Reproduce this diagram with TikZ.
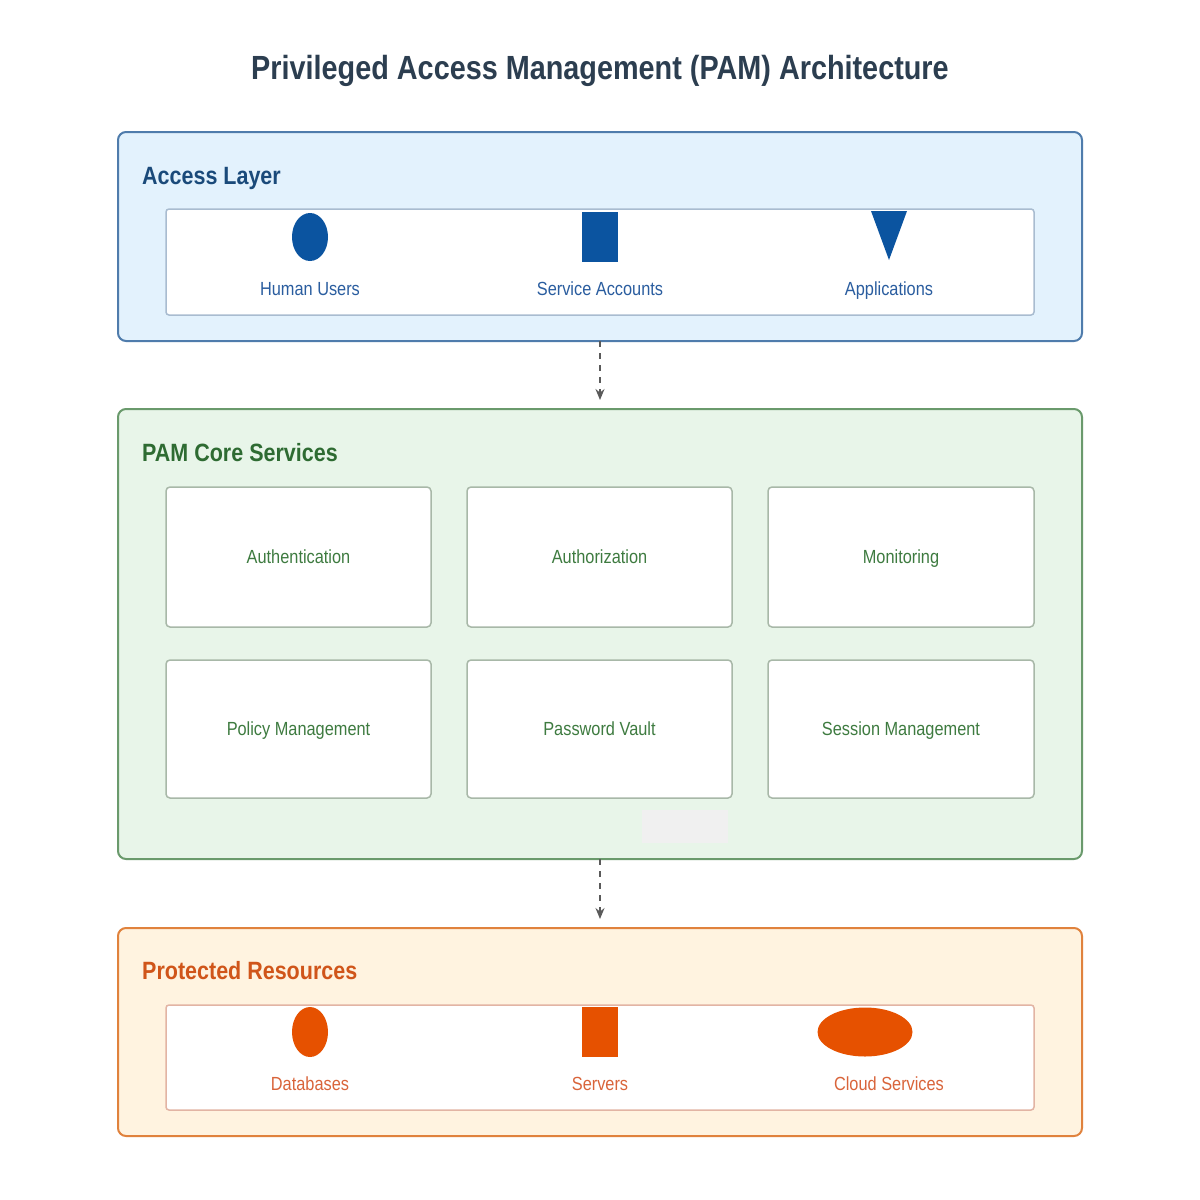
\documentclass[tikz,border=0pt]{standalone}
\usepackage{fontspec}
\setmainfont{Liberation Sans}[FakeStretch=0.86]
\usetikzlibrary{shapes.geometric,arrows.meta}
\definecolor{titlec}{HTML}{2C3E50}
\definecolor{accfill}{HTML}{E3F2FD}
\definecolor{accdraw}{HTML}{4F7CAC}
\definecolor{acctext}{HTML}{1A4A7A}
\definecolor{accicon}{HTML}{0B54A0}
\definecolor{acclabel}{HTML}{2A5D9F}
\definecolor{accinner}{HTML}{A9BCD0}
\definecolor{corefill}{HTML}{E8F5E9}
\definecolor{coredraw}{HTML}{6A9A6C}
\definecolor{coretext}{HTML}{2E6B32}
\definecolor{corelabel}{HTML}{3E7B40}
\definecolor{coreinner}{HTML}{A8B8A8}
\definecolor{protfill}{HTML}{FFF3E0}
\definecolor{protdraw}{HTML}{E0823D}
\definecolor{prottext}{HTML}{D0551A}
\definecolor{proticon}{HTML}{E65100}
\definecolor{protlabel}{HTML}{D9643A}
\definecolor{protinner}{HTML}{E2B4A4}
\definecolor{arrowc}{HTML}{5A5A5A}
\begin{document}
\begin{tikzpicture}[x=1pt,y=-1pt,
  layer/.style={draw, line width=2pt, rounded corners=8pt},
  inner/.style={draw, line width=1.5pt, fill=white, rounded corners=3pt},
  svcbox/.style={draw=coreinner, line width=1.5pt, fill=white, rounded corners=4pt},
  ltitle/.style={anchor=west, font=\bfseries\fontsize{25}{28}\selectfont, inner sep=0pt, text height=18pt, text depth=0pt},
  ilabel/.style={font=\fontsize{19}{22}\selectfont, inner sep=0pt, text height=13.6pt, text depth=0pt},
  svctext/.style={font=\fontsize{19}{22}\selectfont, text=corelabel, inner sep=0pt, text height=13.6pt, text depth=0pt},
  flow/.style={draw=arrowc, line width=1.6pt, dashed, dash pattern=on 6pt off 6pt, -{Stealth[length=11pt,width=9pt]}}
]
\useasboundingbox (0,0) rectangle (1200,1200);
\fill[white] (0,0) rectangle (1200,1200);

\node[font=\bfseries\fontsize{33.5}{38}\selectfont, text=titlec, inner sep=0pt, text height=24pt, text depth=0pt] (title) at (600,67) {Privileged Access Management (PAM) Architecture};

% Access layer
\draw[layer, draw=accdraw, fill=accfill] (118,132) rectangle (1082,341);
\coordinate (accbot) at (600,341);
\node[ltitle, text=acctext] (acct) at (142,175) {Access Layer};
\draw[inner, draw=accinner] (166,209) rectangle (1034,315);
\node[ellipse, fill=accicon, minimum width=36pt, minimum height=48pt, inner sep=0pt] (human) at (310,237) {};
\node[rectangle, fill=accicon, minimum width=36pt, minimum height=50pt, inner sep=0pt] (svcacc) at (600,237) {};
\fill[accicon] (871,211) -- (907,211) -- (889,260) -- cycle;
\coordinate (appicon) at (889,235);
\node[ilabel, text=acclabel] (humanl) at (310,289) {Human Users};
\node[ilabel, text=acclabel] (svcaccl) at (600,289) {Service Accounts};
\node[ilabel, text=acclabel] (appl) at (889,289) {Applications};

% Core
\draw[layer, draw=coredraw, fill=corefill] (118,409) rectangle (1082,859);
\coordinate (coretop) at (600,400);
\coordinate (corebot) at (600,859);
\node[ltitle, text=coretext] (coret) at (142,452) {PAM Core Services};
\draw[svcbox] (166,487) rectangle (431,627);
\draw[svcbox] (467,487) rectangle (732,627);
\draw[svcbox] (768,487) rectangle (1034,627);
\draw[svcbox] (166,660) rectangle (431,798);
\draw[svcbox] (467,660) rectangle (732,798);
\draw[svcbox] (768,660) rectangle (1034,798);
\node[svctext] (authn) at (298.5,557) {Authentication};
\node[svctext] (authz) at (599.5,557) {Authorization};
\node[svctext] (mon) at (901,557) {Monitoring};
\node[svctext] (pol) at (298.5,729) {Policy Management};
\node[svctext] (vault) at (599.5,729) {Password Vault};
\node[svctext] (sess) at (901,729) {Session Management};
\fill[gray!12] (642,810) rectangle (728,843);

% Protected
\draw[layer, draw=protdraw, fill=protfill] (118,928) rectangle (1082,1136);
\coordinate (prottop) at (600,919);
\node[ltitle, text=prottext] (prott) at (142,970) {Protected Resources};
\draw[inner, draw=protinner] (166,1005) rectangle (1034,1110);
\node[ellipse, fill=proticon, minimum width=36pt, minimum height=50pt, inner sep=0pt] (db) at (310,1032) {};
\node[rectangle, fill=proticon, minimum width=36pt, minimum height=50pt, inner sep=0pt] (srv) at (600,1032) {};
\node[ellipse, fill=proticon, minimum width=95pt, minimum height=49pt, inner sep=0pt] (cloud) at (865,1032) {};
\node[ilabel, text=protlabel] (dbl) at (310,1084) {Databases};
\node[ilabel, text=protlabel] (srvl) at (600,1084) {Servers};
\node[ilabel, text=protlabel] (cloudl) at (889,1084) {Cloud Services};

% Flows
\draw[flow] (accbot) -- (coretop);
\draw[flow] (corebot) -- (prottop);
\end{tikzpicture}
\end{document}
